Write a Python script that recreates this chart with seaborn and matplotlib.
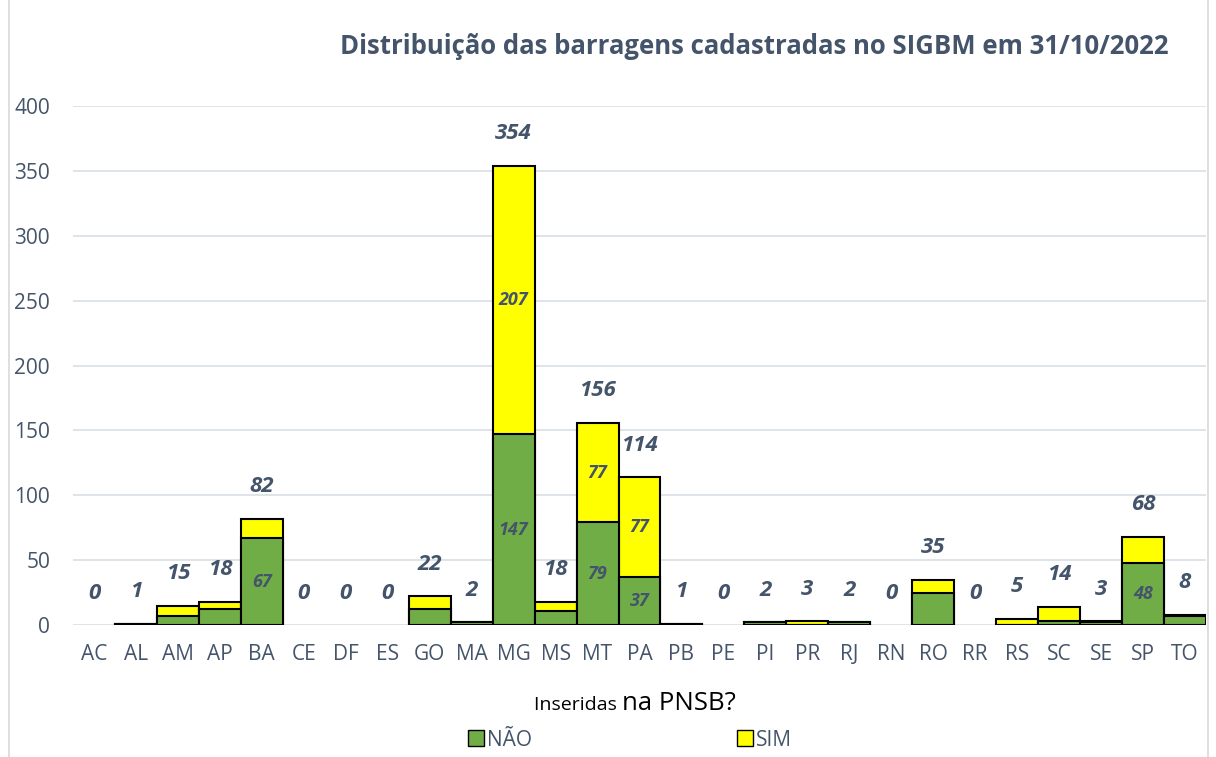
import pandas as pd
import matplotlib.pyplot as plt
import matplotlib.patches as mpatches
import seaborn as sns

# Dados
estados = ["AC", "AL", "AM", "AP", "BA", "CE", "DF", "ES", "GO", "MA", "MG", "MS", "MT", "PA",
           "PB", "PE", "PI", "PR", "RJ", "RN", "RO", "RR", "RS", "SC", "SE", "SP", "TO"]
nao = [0, 1, 7, 12, 67, 0, 0, 0, 12, 2, 147, 11, 79, 37,
       1, 0, 2, 0, 2, 0, 25, 0, 0, 3, 2, 48, 7]
sim = [0, 0, 8, 6, 15, 0, 0, 0, 10, 0, 207, 7, 77, 77,
       0, 0, 0, 3, 0, 0, 10, 0, 5, 11, 1, 20, 1]
# segmentos com rótulo interno
rotulos_nao = ["BA", "MG", "MT", "PA", "SP"]
rotulos_sim = ["MG", "MT", "PA"]

VERDE = "#70AD47"
AMARELO = "#FFFF00"
AZUL_CINZA = "#44546A"

df = pd.DataFrame({"estado": estados, "nao": nao, "sim": sim})
df["total"] = df["nao"] + df["sim"]
# sem contorno para barras vazias
df["total_plot"] = df["total"].where(df["total"] > 0)
df["nao_plot"] = df["nao"].where(df["total"] > 0)

sns.set_style("white")
plt.rcParams["font.family"] = ["Open Sans", "DejaVu Sans"]

fig = plt.figure(figsize=(12.16, 7.57), dpi=100)
ax = fig.add_axes([73 / 1216, 1 - 625 / 757, 1133 / 1216, 519 / 757])

sns.barplot(data=df, x="estado", y="total_plot", order=estados, color=AMARELO,
            width=1.0, edgecolor="black", linewidth=1.5, saturation=1, ax=ax, zorder=2)
sns.barplot(data=df, x="estado", y="nao_plot", order=estados, color=VERDE,
            width=1.0, edgecolor="black", linewidth=1.5, saturation=1, ax=ax, zorder=3)

ax.set_ylim(0, 400)
ax.set_xlim(-0.5, len(estados) - 0.5)
ax.set_yticks(range(0, 401, 50))
ax.yaxis.grid(True, color="#D9DEE6", linewidth=1.2, zorder=0)
ax.set_axisbelow(True)
for s in ax.spines.values():
    s.set_visible(False)
ax.set_xlabel("")
ax.set_ylabel("")
ax.tick_params(axis="y", labelsize=15, labelcolor=AZUL_CINZA, length=0, pad=16.5)
ax.tick_params(axis="x", labelsize=15, labelcolor=AZUL_CINZA, length=0, pad=14)

# rótulos de total
for i, row in df.iterrows():
    ax.annotate(str(row["total"]), (i, row["total"]), xytext=(0, 23), textcoords="offset points",
                ha="center", va="center", fontsize=16, fontweight="bold", fontstyle="italic",
                color=AZUL_CINZA, annotation_clip=False)

# rótulos internos
for i, row in df.iterrows():
    if row["estado"] in rotulos_nao:
        ax.text(i, row["nao"] / 2, str(row["nao"]), ha="center", va="center", fontsize=13,
                fontweight="bold", fontstyle="italic", color=AZUL_CINZA, zorder=5)
    if row["estado"] in rotulos_sim:
        ax.text(i, row["nao"] + row["sim"] / 2, str(row["sim"]), ha="center", va="center",
                fontsize=13, fontweight="bold", fontstyle="italic", color=AZUL_CINZA, zorder=5)

fig.text(754 / 1216, 1 - 47 / 757, "Distribuição das barragens cadastradas no SIGBM em 31/10/2022",
         ha="center", va="center", fontsize=18.5, fontweight="bold", color=AZUL_CINZA)

# legenda
fig.text(622 / 1216, 1 - 705 / 757, "Inseridas ", ha="right", va="center", fontsize=14, color="black")
fig.text(622 / 1216, 1 - 704 / 757, "na PNSB?", ha="left", va="center", fontsize=18.5, color="black")
handles = [mpatches.Patch(facecolor=VERDE, edgecolor="black", label="NÃO"),
           mpatches.Patch(facecolor=AMARELO, edgecolor="black", label="SIM")]
leg = fig.legend(handles=handles, loc="center", bbox_to_anchor=(630 / 1216, 1 - 740 / 757), ncol=2,
                 frameon=False, fontsize=15, handlelength=0.8, handleheight=0.8,
                 handletextpad=0.15, columnspacing=9.8)
for t in leg.get_texts():
    t.set_color(AZUL_CINZA)

# moldura
fig.add_artist(mpatches.Rectangle((9 / 1216, -0.01), 1199 / 1216, 1.02, transform=fig.transFigure,
                                  fill=False, edgecolor="#D9D9D9", linewidth=1.2))

fig.savefig("out.png", dpi=100)
